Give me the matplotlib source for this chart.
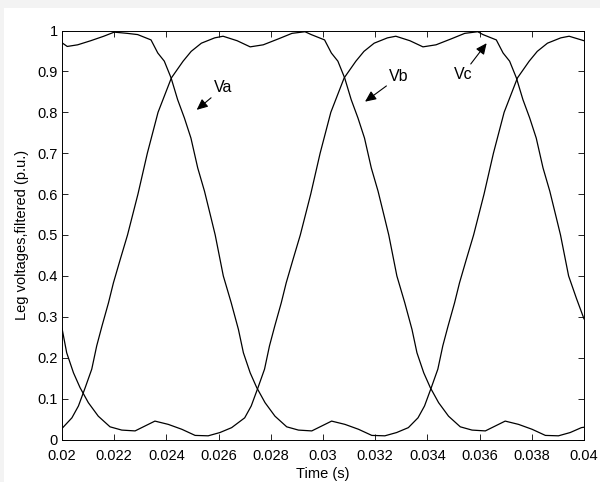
import matplotlib
matplotlib.use("Agg")
import matplotlib.pyplot as plt
from matplotlib.patches import Rectangle

plt.rcParams.update({
    "font.family": ["Liberation Sans", "DejaVu Sans"],
    "font.size": 10.5,
})

# filtered leg voltages (time in s, value in p.u.)
t_a = [0.0200, 0.0202, 0.0206, 0.0211, 0.0216, 0.0220, 0.0225, 0.0229, 0.02341,
       0.02367, 0.02392, 0.02418, 0.02443, 0.02469, 0.02494, 0.0252, 0.02546,
       0.02571, 0.02587, 0.02618, 0.02648, 0.02676, 0.02695, 0.02721, 0.02746,
       0.02778, 0.02816, 0.02861, 0.02906, 0.02957, 0.02995, 0.03033, 0.03084,
       0.03136, 0.03187, 0.03237, 0.03282, 0.03327, 0.03364, 0.03389, 0.03415,
       0.0344, 0.03459, 0.03479, 0.03504, 0.03523, 0.03549, 0.03577, 0.03617,
       0.03653, 0.03694, 0.03745, 0.0379, 0.03821, 0.0386, 0.03911, 0.03943, 0.0400]
v_a = [0.970, 0.961, 0.965, 0.975, 0.986, 0.996, 0.993, 0.990, 0.977,
       0.945, 0.925, 0.884, 0.831, 0.786, 0.737, 0.664, 0.607,
       0.542, 0.500, 0.400, 0.335, 0.269, 0.212, 0.163, 0.127,
       0.090, 0.057, 0.031, 0.023, 0.021, 0.033, 0.045, 0.037,
       0.025, 0.010, 0.009, 0.017, 0.029, 0.053, 0.082, 0.127,
       0.172, 0.229, 0.277, 0.334, 0.383, 0.440, 0.500, 0.600,
       0.700, 0.800, 0.884, 0.925, 0.949, 0.969, 0.982, 0.986, 0.975]

t_b = [0.0200, 0.02018, 0.02044, 0.02069, 0.02101, 0.02139, 0.02184, 0.02229,
       0.0228, 0.02318, 0.02356, 0.02407, 0.02459, 0.0251, 0.0256, 0.02605,
       0.0265, 0.0270, 0.02725, 0.02751, 0.02776, 0.02795, 0.02815, 0.0284,
       0.02859, 0.02885, 0.02913, 0.02953, 0.02989, 0.0303, 0.03081, 0.03126,
       0.03157, 0.03196, 0.03247, 0.03279, 0.03333, 0.03383, 0.03433, 0.03493,
       0.03543, 0.03593, 0.03613, 0.03664, 0.0369, 0.03715, 0.03741, 0.03766,
       0.03792, 0.03817, 0.03843, 0.03869, 0.03894, 0.0391, 0.03941, 0.03971, 0.0400]
v_b = [0.272, 0.212, 0.163, 0.127, 0.090, 0.057, 0.031, 0.023,
       0.021, 0.033, 0.045, 0.037, 0.025, 0.010, 0.009, 0.017,
       0.029, 0.053, 0.082, 0.127, 0.172, 0.229, 0.277, 0.334,
       0.383, 0.440, 0.500, 0.600, 0.700, 0.800, 0.884, 0.925,
       0.949, 0.969, 0.982, 0.986, 0.975, 0.960, 0.965, 0.980,
       0.993, 0.997, 0.990, 0.977, 0.945, 0.925, 0.884, 0.831,
       0.786, 0.737, 0.664, 0.607, 0.542, 0.500, 0.400, 0.345, 0.295]

t_c = [0.0200, 0.02038, 0.02063, 0.02089, 0.02114, 0.02133, 0.02153, 0.02178,
       0.02197, 0.02223, 0.02251, 0.02291, 0.02327, 0.02368, 0.02419, 0.02464,
       0.02495, 0.02534, 0.02585, 0.02617, 0.02671, 0.02721, 0.02771, 0.02831,
       0.02881, 0.02931, 0.02955, 0.03006, 0.03032, 0.03057, 0.03083, 0.03108,
       0.03134, 0.03159, 0.03185, 0.03211, 0.03236, 0.03252, 0.03283, 0.03313,
       0.03341, 0.0336, 0.03386, 0.03411, 0.03443, 0.03481, 0.03526, 0.03571,
       0.03622, 0.0366, 0.03698, 0.03749, 0.03801, 0.03852, 0.03902, 0.03947,
       0.0399, 0.0400]
v_c = [0.027, 0.053, 0.082, 0.127, 0.172, 0.229, 0.277, 0.334,
       0.383, 0.440, 0.500, 0.600, 0.700, 0.800, 0.884, 0.925,
       0.949, 0.969, 0.982, 0.986, 0.975, 0.960, 0.965, 0.980,
       0.993, 0.997, 0.990, 0.977, 0.945, 0.925, 0.884, 0.831,
       0.786, 0.737, 0.664, 0.607, 0.542, 0.500, 0.400, 0.335,
       0.269, 0.212, 0.163, 0.127, 0.090, 0.057, 0.031, 0.023,
       0.021, 0.033, 0.045, 0.037, 0.025, 0.010, 0.009, 0.017,
       0.029, 0.030]

x_ticks = [0.02, 0.022, 0.024, 0.026, 0.028, 0.03, 0.032, 0.034, 0.036, 0.038, 0.04]
x_labels = ["0.02", "0.022", "0.024", "0.026", "0.028", "0.03", "0.032",
            "0.034", "0.036", "0.038", "0.04"]
y_ticks = [0, 0.1, 0.2, 0.3, 0.4, 0.5, 0.6, 0.7, 0.8, 0.9, 1]
y_labels = ["0", "0.1", "0.2", "0.3", "0.4", "0.5", "0.6", "0.7", "0.8", "0.9", "1"]

# label text, text position, arrow tip
labels = [("Va", (0.02617, 0.860), (0.02516, 0.806)),
          ("Vb", (0.03291, 0.887), (0.03161, 0.826)),
          ("Vc", (0.03536, 0.893), (0.03627, 0.969))]

fig = plt.figure(figsize=(6.0, 4.82), dpi=100)
fig.patch.set_facecolor("#f3f3f3")
fig.patches.append(Rectangle((4 / 600, 0), 1, 1 - 8 / 482, transform=fig.transFigure,
                             facecolor="white", edgecolor="none", zorder=-10))
ax = fig.add_axes([62 / 600, 42.5 / 482, 522 / 600, 409 / 482])

for t, v in [(t_a, v_a), (t_b, v_b), (t_c, v_c)]:
    ax.plot(t, v, color="black", lw=0.9)

for name, xy_text, xy_tip in labels:
    ax.annotate(name, xy=xy_tip, xytext=xy_text, fontsize=11.5, ha="center", va="center",
                arrowprops=dict(arrowstyle="-|>,head_length=0.55,head_width=0.25",
                                color="black", lw=0.8,
                                mutation_scale=12, shrinkA=0, shrinkB=0))

ax.set_xlim(0.02, 0.04)
ax.set_ylim(0, 1)
ax.set_xticks(x_ticks)
ax.set_xticklabels(x_labels)
ax.set_yticks(y_ticks)
ax.set_yticklabels(y_labels)
ax.tick_params(direction="in", top=True, right=True, length=4, width=0.6,
               labelsize=10.5, pad=3)
ax.tick_params(axis="x", pad=6.5)
for s in ax.spines.values():
    s.set_linewidth(0.7)
ax.set_xlabel("Time (s)", fontsize=10.5, labelpad=3)
ax.set_ylabel("Leg voltages,filtered (p.u.)", fontsize=10.5, labelpad=6)

fig.savefig("out.png", dpi=100)
